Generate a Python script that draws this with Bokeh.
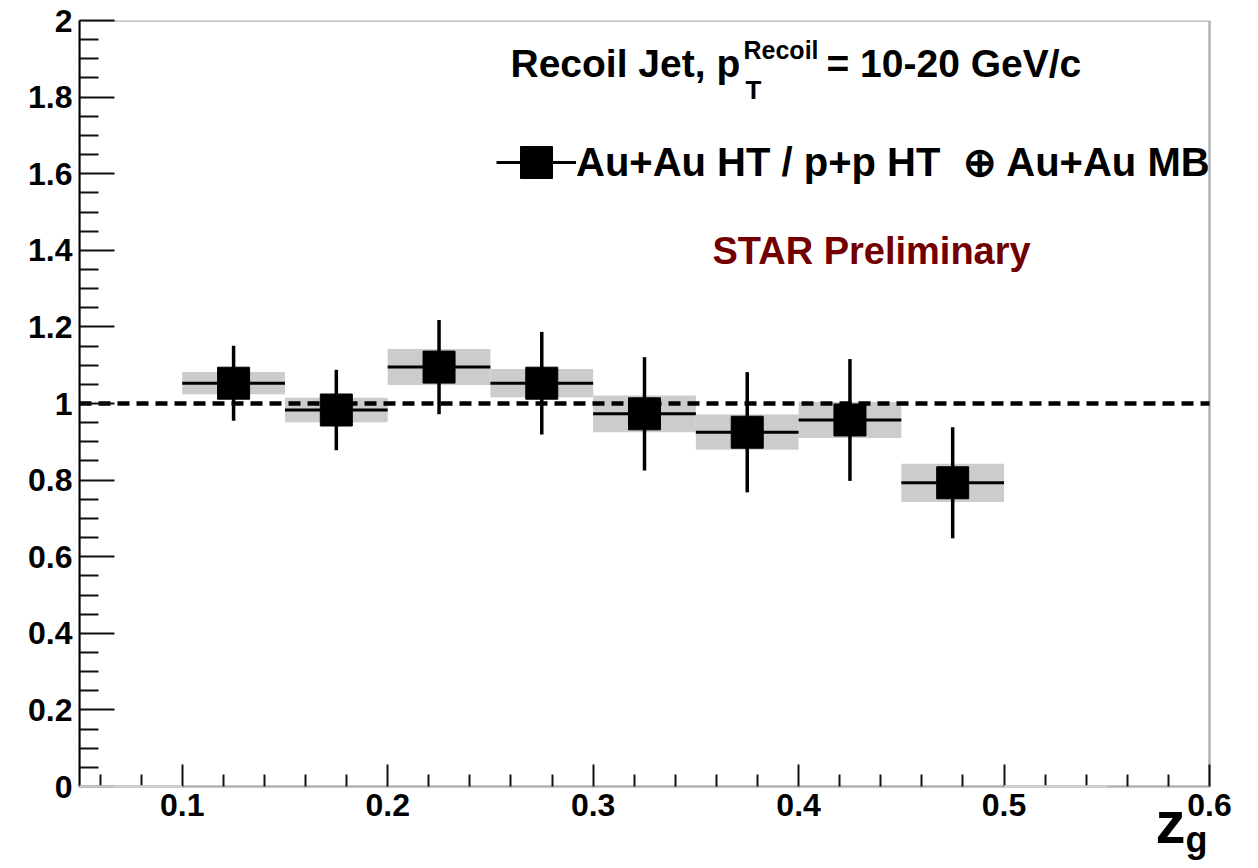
from bokeh.plotting import figure
from bokeh.models import (Label, Legend, LegendItem, FixedTicker, BoxAnnotation,
                          CustomJSTickFormatter)
from bokeh.embed import file_html
from bokeh.resources import INLINE

# ---------------- data ----------------
bin_lo = [0.10, 0.15, 0.20, 0.25, 0.30, 0.35, 0.40, 0.45]
bin_hi = [0.15, 0.20, 0.25, 0.30, 0.35, 0.40, 0.45, 0.50]
zg_center = [0.125, 0.175, 0.225, 0.275, 0.325, 0.375, 0.425, 0.475]
ratio = [1.053, 0.983, 1.095, 1.053, 0.973, 0.925, 0.957, 0.793]
stat_err = [0.098, 0.105, 0.123, 0.134, 0.148, 0.157, 0.159, 0.145]
sys_err = [0.029, 0.032, 0.047, 0.037, 0.048, 0.046, 0.047, 0.050]
# empty bins (drawn by ROOT as zero-height systematic boxes on the axis)
empty_lo = [0.05, 0.50]
empty_hi = [0.10, 0.55]

x_ticks = [0.1, 0.2, 0.3, 0.4, 0.5, 0.6]
y_ticks = [0.0, 0.2, 0.4, 0.6, 0.8, 1.0, 1.2, 1.4, 1.6, 1.8, 2.0]
X_LO, X_HI = 0.05, 0.6      # histogram frame
Y_LO, Y_HI = 0.0, 2.0
unity = 1.0

legend_label = "Au+Au HT / p+p HT  \u2295 Au+Au MB"
title_main = "Recoil Jet, p"
title_sup = "Recoil"
title_sub = "T"
title_rest = "= 10-20 GeV/c"
star_text = "STAR Preliminary"
axis_title_main = "z"
axis_title_sub = "g"

FONT = "Liberation Sans"

# ---------------- geometry (page pixels) ----------------
W, H = 1250, 866
FL, FR, FT, FB = 79, 1209, 20, 786      # visible histogram frame
px_per_x = (FR - FL) / (X_HI - X_LO)
px_per_y = (FB - FT) / (Y_HI - Y_LO)
# plotting area extends to the canvas edge (right, bottom) so that the
# axis title and the "0.6" label lie inside it
x_range = (X_LO, X_HI + (W - FR) / px_per_x)
y_range = (Y_LO - (H - FB) / px_per_y, Y_HI)

def dx(px):
    return X_LO + (px - FL) / px_per_x

def dy(py):
    return Y_LO + (FB - py) / px_per_y

p = figure(width=W, height=H, x_range=x_range, y_range=y_range,
           output_backend="svg", toolbar_location=None,
           min_border_left=FL, min_border_right=0,
           min_border_top=FT, min_border_bottom=0)
p.xgrid.visible = False
p.ygrid.visible = False
p.outline_line_color = None
p.background_fill_color = "white"
p.border_fill_color = "white"

fmt = CustomJSTickFormatter(code="return (Math.round(tick*10)/10).toString();")

x_minor = [round(0.06 + 0.02 * i, 2) for i in range(28)]
x_minor = [t for t in x_minor if abs(t * 10 - round(t * 10)) > 1e-6]
y_minor = [round(0.05 * i, 2) for i in range(41)]
y_minor = [t for t in y_minor if abs(t * 5 - round(t * 5)) > 1e-6]

p.xaxis.ticker = FixedTicker(ticks=x_ticks, minor_ticks=x_minor)
p.yaxis.ticker = FixedTicker(ticks=y_ticks, minor_ticks=y_minor)
p.xaxis.fixed_location = 0
for ax in (p.xaxis, p.yaxis):
    ax.formatter = fmt
    ax.major_tick_out = 0
    ax.minor_tick_out = 0
    ax.major_tick_line_color = "#111111"
    ax.minor_tick_line_color = "#111111"
    ax.major_tick_line_width = 2
    ax.minor_tick_line_width = 2
    ax.major_label_text_font = FONT
    ax.major_label_text_font_style = "bold"
    ax.major_label_text_font_size = "32px"
    ax.major_label_text_color = "black"
p.xaxis.axis_line_color = None
p.yaxis.axis_line_color = "black"
p.yaxis.axis_line_width = 2
p.yaxis.bounds = (Y_LO, Y_HI)
p.xaxis.major_tick_in = 22
p.xaxis.minor_tick_in = 12
p.xaxis.major_label_standoff = 7
p.yaxis.major_tick_in = 35
p.yaxis.minor_tick_in = 19
p.yaxis.major_label_standoff = 7

# histogram frame box
p.add_layout(BoxAnnotation(left=X_LO, right=X_HI, bottom=Y_LO, top=Y_HI,
                           fill_alpha=0, line_color="black", line_width=2.5,
                           level="underlay"))

# systematic boxes
p.quad(left=bin_lo, right=bin_hi,
       bottom=[r - s for r, s in zip(ratio, sys_err)],
       top=[r + s for r, s in zip(ratio, sys_err)],
       fill_color="#cccccc", line_color=None)

# unity line
p.line(x=[X_LO, X_HI], y=[unity, unity], line_color="black",
       line_width=4.5, line_dash="12 7")

# stat error bars
p.segment(x0=zg_center, x1=zg_center,
          y0=[r - e for r, e in zip(ratio, stat_err)],
          y1=[r + e for r, e in zip(ratio, stat_err)],
          line_color="black", line_width=3.5)
# bin-width bars
hbar = p.segment(x0=bin_lo, x1=bin_hi, y0=ratio, y1=ratio,
                 line_color="black", line_width=3)
# markers
pts = p.scatter(x=zg_center, y=ratio, marker="square", size=32,
                fill_color="black", line_color="black")

# empty bins on the axis (drawn over the frame line, as in ROOT)
p.segment(x0=empty_lo, x1=empty_hi, y0=[Y_LO] * 2, y1=[Y_LO] * 2,
          line_color="#d0d0d0", line_width=2.5, level="overlay")

legend = Legend(items=[LegendItem(label=legend_label, renderers=[hbar, pts])],
                location=(496 - FL, H - 202), glyph_width=80, glyph_height=80,
                label_text_font=FONT, label_text_font_style="bold",
                label_text_font_size="40px", label_text_color="black",
                border_line_color=None, background_fill_alpha=0,
                padding=0, margin=0, label_standoff=0, spacing=0)
p.add_layout(legend)

def lab(text, px, py_base, size, color="black", style="bold"):
    # the rendered alphabetic baseline sits ~0.36 em below the anchor
    p.add_layout(Label(x=dx(px), y=dy(py_base - 0.36 * size), text=text,
                       text_font=FONT, text_font_style=style,
                       text_font_size=f"{size}px", text_color=color,
                       text_align="left", text_baseline="alphabetic"))

lab(title_main, 510, 77, 39)
lab(title_sup, 743, 58, 25)
lab(title_sub, 745, 99, 26)
lab(title_rest, 826, 77, 39)
lab(star_text, 712, 264, 38, color="#720000")

# axis title z_g
lab(axis_title_main, 1155, 844, 60)
lab(axis_title_sub, 1185, 852, 36)

open("out.html", "w").write(file_html(p, INLINE))
